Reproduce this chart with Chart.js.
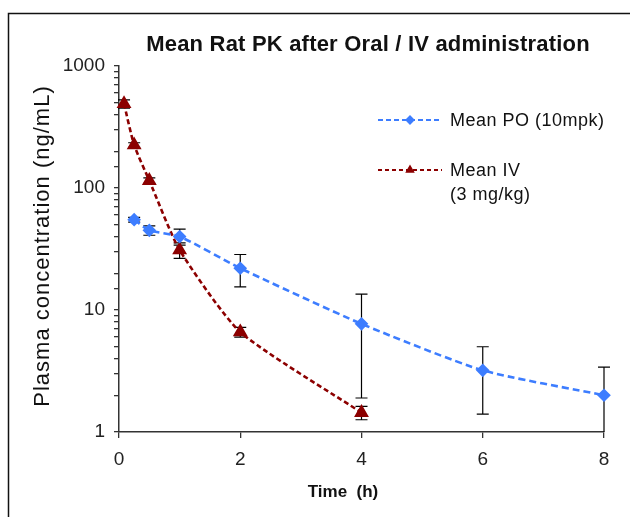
<!DOCTYPE html>
<html>
<head>
<meta charset="utf-8">
<script src="https://cdn.jsdelivr.net/npm/chart.js@4.4.1/dist/chart.umd.min.js"></script>
<style>
  html, body { margin: 0; padding: 0; background: #fff; }
  #wrap { width: 630px; height: 517px; position: relative; }
</style>
</head>
<body>
<div id="wrap"><canvas id="pkChart" width="630" height="517"></canvas></div>
<script>
// PO dose (10 mpk)
const poTime = [0.25, 0.5, 1, 2, 4, 6, 8];
const poMean = [55, 45, 40, 22, 7.7, 3.2, 2.0];
const poSD = [2.5, 4, 6, 6.5, 5.8, 1.8, 1.4];

// IV dose (3 mg/kg)
const ivTime = [0.083, 0.25, 0.5, 1, 2, 4];
const ivMean = [490, 225, 115, 31, 6.6, 1.44];
const ivSD = [38, 10, 6, 4.5, 0.6, 0.18];

const yTickLabels = [1, 10, 100, 1000];
const xTickLabels = [0, 2, 4, 6, 8];

const BLUE = '#3d7dff';
const RED = '#8c0000';
const FONT = "'Liberation Sans', Arial, sans-serif";

Chart.defaults.font.family = FONT;
Chart.defaults.color = '#222';

const toPoints = (xs, ys) => xs.map((t, i) => ({ x: t, y: ys[i] }));

// frame, error bars, titles and the legend
const decorations = {
  id: 'decorations',
  beforeDraw(chart) {
    const ctx = chart.ctx;
    ctx.save();
    ctx.strokeStyle = '#111';
    ctx.lineWidth = 1.5;
    ctx.beginPath();
    ctx.moveTo(8.5, 517);
    ctx.lineTo(8.5, 13.5);
    ctx.lineTo(630, 13.5);
    ctx.stroke();
    ctx.restore();
  },
  beforeDatasetsDraw(chart) {
    const { ctx, chartArea, scales: { x, y } } = chart;
    ctx.save();
    ctx.strokeStyle = '#000';
    ctx.lineWidth = 1.2;
    chart.data.datasets.forEach(ds => {
      ds.data.forEach((p, i) => {
        const sd = ds.sd[i];
        const px = x.getPixelForValue(p.x);
        const top = y.getPixelForValue(p.y + sd);
        const lowVal = p.y - sd;
        const clipped = lowVal < y.min;
        const bot = clipped ? chartArea.bottom : y.getPixelForValue(lowVal);
        ctx.beginPath();
        ctx.moveTo(px, top);
        ctx.lineTo(px, bot);
        ctx.moveTo(px - 6, top);
        ctx.lineTo(px + 6, top);
        if (!clipped) {
          ctx.moveTo(px - 6, bot);
          ctx.lineTo(px + 6, bot);
        }
        ctx.stroke();
      });
    });
    ctx.restore();
  },
  afterDraw(chart) {
    const ctx = chart.ctx;
    ctx.save();
    ctx.fillStyle = '#111';
    ctx.textBaseline = 'middle';

    // title
    ctx.textAlign = 'center';
    ctx.font = 'bold 22px ' + FONT;
    ctx.letterSpacing = '0.2px';
    ctx.fillText('Mean Rat PK after Oral / IV administration', 368, 45);

    // x axis title
    ctx.font = 'bold 17px ' + FONT;
    ctx.letterSpacing = '0px';
    ctx.fillText('Time  (h)', 343, 492);

    // y axis title
    ctx.save();
    ctx.translate(43, 246);
    ctx.rotate(-Math.PI / 2);
    ctx.font = '22px ' + FONT;
    ctx.letterSpacing = '1px';
    ctx.fillText('Plasma concentration (ng/mL)', 0, 0);
    ctx.restore();

    // legend
    const entries = [
      { color: BLUE, style: 'rectRot', y: 120, lines: ['Mean PO (10mpk)'], dash: [5, 3] },
      { color: RED, style: 'triangle', y: 170, lines: ['Mean IV', '(3 mg/kg)'], dash: [4, 3] }
    ];
    entries.forEach(e => {
      ctx.save();
      ctx.strokeStyle = e.color;
      ctx.lineWidth = 2;
      ctx.setLineDash(e.dash);
      ctx.beginPath();
      ctx.moveTo(378, e.y);
      ctx.lineTo(442, e.y);
      ctx.stroke();
      ctx.setLineDash([]);
      ctx.fillStyle = e.color;
      ctx.strokeStyle = e.color;
      Chart.helpers.drawPoint(ctx, { pointStyle: e.style, radius: 3.5, borderWidth: 1 }, 410, e.y);
      ctx.restore();
      ctx.textAlign = 'left';
      ctx.font = '18px ' + FONT;
      ctx.letterSpacing = '0.5px';
      e.lines.forEach((t, k) => ctx.fillText(t, 450, e.y + 1 + k * 24));
    });
    ctx.restore();
  }
};

new Chart(document.getElementById('pkChart'), {
  type: 'line',
  data: {
    datasets: [
      {
        label: 'Mean PO (10mpk)',
        data: toPoints(poTime, poMean),
        sd: poSD,
        borderColor: BLUE,
        backgroundColor: BLUE,
        borderWidth: 2.6,
        borderDash: [7, 4],
        pointStyle: 'rectRot',
        pointRadius: 5,
        tension: 0.2,
        clip: false
      },
      {
        label: 'Mean IV (3 mg/kg)',
        data: toPoints(ivTime, ivMean),
        sd: ivSD,
        borderColor: RED,
        backgroundColor: RED,
        borderWidth: 2.6,
        borderDash: [5, 3],
        pointStyle: 'triangle',
        pointRadius: 6,
        tension: 0.2,
        clip: false
      }
    ]
  },
  options: {
    responsive: false,
    animation: false,
    layout: { padding: { left: 0, top: 66, right: 26, bottom: 0 } },
    plugins: {
      legend: { display: false },
      title: { display: false },
      tooltip: { enabled: false }
    },
    scales: {
      x: {
        type: 'linear',
        min: 0,
        max: 8,
        afterFit: s => { s.height = 85; },
        afterBuildTicks: s => { s.ticks = xTickLabels.map(v => ({ value: v })); },
        ticks: { font: { size: 19 }, padding: 10, color: '#222' },
        grid: { drawOnChartArea: false, drawTicks: true, tickLength: 6, color: '#333', lineWidth: 1.3 },
        border: { display: true, color: '#333', width: 1.5 }
      },
      y: {
        type: 'logarithmic',
        min: 1,
        max: 1000,
        afterFit: s => { s.width = 119; },
        ticks: {
          autoSkip: false,
          font: { size: 19 },
          padding: 9,
          color: '#222',
          callback: v => yTickLabels.some(t => Math.abs(t - v) < 1e-6) ? String(v) : ''
        },
        grid: { drawOnChartArea: false, drawTicks: true, tickLength: 5, color: '#333', lineWidth: 1.3 },
        border: { display: true, color: '#333', width: 1.5 }
      }
    }
  },
  plugins: [decorations]
});
</script>
</body>
</html>
